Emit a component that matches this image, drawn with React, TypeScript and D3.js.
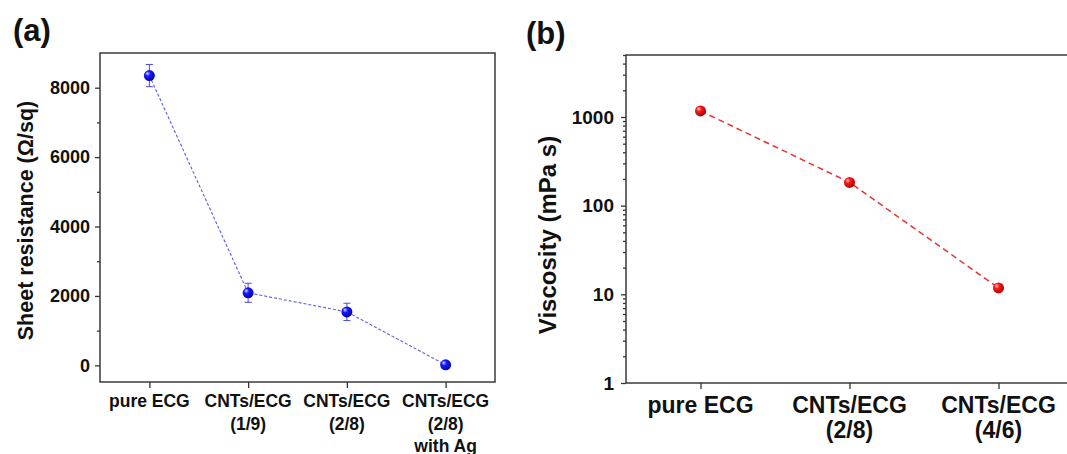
import * as d3 from 'd3';
import { useEffect, useRef } from 'react';

const WIDTH = 1067;
const HEIGHT = 454;
const FONT = '"Liberation Sans", Arial, sans-serif';

// panel (a): sheet resistance
const RES_CATEGORIES = [
  ['pure ECG'],
  ['CNTs/ECG', '(1/9)'],
  ['CNTs/ECG', '(2/8)'],
  ['CNTs/ECG', '(2/8)', 'with Ag'],
];
const RES_VALUES = [8350, 2090, 1540, 15];
const RES_ERRORS = [320, 275, 250, 0];
const RES_TICKS = [0, 2000, 4000, 6000, 8000];
const RES_MINOR_TICKS = [1000, 3000, 5000, 7000];

// panel (b): viscosity
const VISC_CATEGORIES = [['pure ECG'], ['CNTs/ECG', '(2/8)'], ['CNTs/ECG', '(4/6)']];
const VISC_VALUES = [1170, 183, 11.8];
const VISC_TICKS = [1, 10, 100, 1000];

function ballGradient(defs, id, light, base, dark) {
  const grad = defs.append('radialGradient')
    .attr('id', id)
    .attr('cx', '40%')
    .attr('cy', '40%')
    .attr('r', '65%')
    .attr('fx', '32%')
    .attr('fy', '30%');
  grad.append('stop').attr('offset', '0%').attr('stop-color', light);
  grad.append('stop').attr('offset', '35%').attr('stop-color', base);
  grad.append('stop').attr('offset', '100%').attr('stop-color', dark);
}

function styleAxis(axis, size) {
  axis.select('.domain').remove();
  axis.selectAll('line').attr('stroke', '#333').attr('stroke-width', 1.3);
  axis.selectAll('text')
    .style('font-family', FONT)
    .style('font-weight', 700)
    .style('font-size', `${size}px`)
    .attr('fill', '#111');
}

export default function App() {
  const ref = useRef(null);

  useEffect(() => {
    document.body.style.margin = '0';
    const svg = d3.select(ref.current);
    svg.selectAll('*').remove();

    const defs = svg.append('defs');
    ballGradient(defs, 'blueBall', '#d8d8ff', '#1a1aff', '#0000a0');
    ballGradient(defs, 'redBall', '#ffd0d0', '#ff1a1a', '#a00000');

    // ---------- panel (a) ----------
    const a = { left: 100, right: 495, top: 53, bottom: 382 };
    const xa = d3.scaleLinear().domain([-0.5, 3.5]).range([a.left, a.right]);
    const ya = d3.scaleLinear().domain([-480, 9000]).range([a.bottom, a.top]);
    const ga = svg.append('g');

    ga.append('g')
      .attr('transform', `translate(${a.left},0)`)
      .call(d3.axisLeft(ya).tickValues(RES_MINOR_TICKS).tickSize(3).tickFormat(() => ''))
      .call((axis) => styleAxis(axis, 18));

    ga.append('g')
      .attr('transform', `translate(${a.left},0)`)
      .call(d3.axisLeft(ya).tickValues(RES_TICKS).tickSize(5).tickPadding(5).tickFormat(d3.format('d')))
      .call((axis) => styleAxis(axis, 18));

    ga.append('g')
      .attr('transform', `translate(0,${a.bottom})`)
      .call(d3.axisBottom(xa).tickValues(d3.range(RES_CATEGORIES.length)).tickSize(6).tickFormat(() => ''))
      .call((axis) => styleAxis(axis, 18));

    RES_CATEGORIES.forEach((lines, i) => {
      const t = ga.append('text')
        .attr('x', xa(i))
        .attr('y', 407)
        .attr('text-anchor', 'middle')
        .style('font-family', FONT)
        .style('font-weight', 700)
        .style('font-size', '17.5px')
        .attr('fill', '#111');
      lines.forEach((line, j) => {
        t.append('tspan').attr('x', xa(i)).attr('dy', j === 0 ? 0 : 22.5).text(line);
      });
    });

    ga.append('rect')
      .attr('x', a.left)
      .attr('y', a.top)
      .attr('width', a.right - a.left)
      .attr('height', a.bottom - a.top)
      .attr('fill', 'none')
      .attr('stroke', '#3a3a3a')
      .attr('stroke-width', 1.5);

    ga.append('path')
      .datum(RES_VALUES)
      .attr('d', d3.line().x((d, i) => xa(i)).y((d) => ya(d)))
      .attr('fill', 'none')
      .attr('stroke', '#5c5ce8')
      .attr('stroke-width', 1.1)
      .attr('stroke-dasharray', '3,2');

    RES_VALUES.forEach((v, i) => {
      const err = RES_ERRORS[i];
      if (err > 0) {
        const eg = ga.append('g').attr('stroke', '#4a4ae0').attr('stroke-width', 1);
        eg.append('line').attr('x1', xa(i)).attr('x2', xa(i)).attr('y1', ya(v - err)).attr('y2', ya(v + err));
        [v - err, v + err].forEach((e) => {
          eg.append('line').attr('x1', xa(i) - 3.5).attr('x2', xa(i) + 3.5).attr('y1', ya(e)).attr('y2', ya(e));
        });
      }
    });

    ga.selectAll('circle.res')
      .data(RES_VALUES)
      .enter()
      .append('circle')
      .attr('class', 'res')
      .attr('cx', (d, i) => xa(i))
      .attr('cy', (d) => ya(d))
      .attr('r', 5.5)
      .attr('fill', 'url(#blueBall)');

    ga.append('text')
      .attr('transform', `translate(33,${(a.top + a.bottom) / 2 + 3}) rotate(-90)`)
      .attr('text-anchor', 'middle')
      .style('font-family', FONT)
      .style('font-weight', 700)
      .style('font-size', '21.5px')
      .attr('fill', '#111')
      .text('Sheet resistance (Ω/sq)');

    svg.append('text')
      .attr('x', 13)
      .attr('y', 41)
      .style('font-family', FONT)
      .style('font-weight', 700)
      .style('font-size', '31px')
      .attr('fill', '#111')
      .text('(a)');

    // ---------- panel (b) ----------
    const b = { left: 626, top: 55, bottom: 383 };
    const xb = d3.scaleLinear().domain([-0.5, 2.5]).range([b.left, b.left + 447]);
    const yb = d3.scaleLog().domain([1, 5000]).range([b.bottom, b.top]);
    const gb = svg.append('g');

    const minorLog = [];
    VISC_TICKS.forEach((decade) => {
      d3.range(2, 10).forEach((k) => {
        if (decade * k <= 5000) minorLog.push(decade * k);
      });
    });

    gb.append('g')
      .attr('transform', `translate(${b.left},0)`)
      .call(d3.axisLeft(yb).tickValues(minorLog).tickSize(3).tickFormat(() => ''))
      .call((axis) => styleAxis(axis, 19));

    gb.append('g')
      .attr('transform', `translate(${b.left},0)`)
      .call(d3.axisLeft(yb).tickValues(VISC_TICKS).tickSize(5).tickPadding(7).tickFormat(d3.format('d')))
      .call((axis) => styleAxis(axis, 19));

    gb.append('g')
      .attr('transform', `translate(0,${b.bottom})`)
      .call(d3.axisBottom(xb).tickValues(d3.range(VISC_CATEGORIES.length)).tickSize(6).tickFormat(() => ''))
      .call((axis) => styleAxis(axis, 19));

    VISC_CATEGORIES.forEach((lines, i) => {
      const t = gb.append('text')
        .attr('x', xb(i))
        .attr('y', 413)
        .attr('text-anchor', 'middle')
        .style('font-family', FONT)
        .style('font-weight', 700)
        .style('font-size', '23px')
        .attr('fill', '#111');
      lines.forEach((line, j) => {
        t.append('tspan').attr('x', xb(i)).attr('dy', j === 0 ? 0 : 25).text(line);
      });
    });

    gb.append('rect')
      .attr('x', b.left)
      .attr('y', b.top)
      .attr('width', xb(2.5) - b.left)
      .attr('height', b.bottom - b.top)
      .attr('fill', 'none')
      .attr('stroke', '#3a3a3a')
      .attr('stroke-width', 1.5);

    gb.append('path')
      .datum(VISC_VALUES)
      .attr('d', d3.line().x((d, i) => xb(i)).y((d) => yb(d)))
      .attr('fill', 'none')
      .attr('stroke', '#e83232')
      .attr('stroke-width', 1.5)
      .attr('stroke-dasharray', '6,4');

    gb.selectAll('circle.visc')
      .data(VISC_VALUES)
      .enter()
      .append('circle')
      .attr('class', 'visc')
      .attr('cx', (d, i) => xb(i))
      .attr('cy', (d) => yb(d))
      .attr('r', 5.5)
      .attr('fill', 'url(#redBall)');

    gb.append('text')
      .attr('transform', `translate(556,235) rotate(-90)`)
      .attr('text-anchor', 'middle')
      .style('font-family', FONT)
      .style('font-weight', 700)
      .style('font-size', '24px')
      .attr('fill', '#111')
      .text('Viscosity (mPa s)');

    svg.append('text')
      .attr('x', 526)
      .attr('y', 44)
      .style('font-family', FONT)
      .style('font-weight', 700)
      .style('font-size', '31px')
      .attr('fill', '#111')
      .text('(b)');

    return () => {
      svg.selectAll('*').remove();
    };
  }, []);

  return (
    <svg
      ref={ref}
      width={WIDTH}
      height={HEIGHT}
      viewBox={`0 0 ${WIDTH} ${HEIGHT}`}
      style={{ display: 'block', background: '#fff' }}
      role="img"
      aria-label="Sheet resistance and viscosity of ECG inks"
    />
  );
}
